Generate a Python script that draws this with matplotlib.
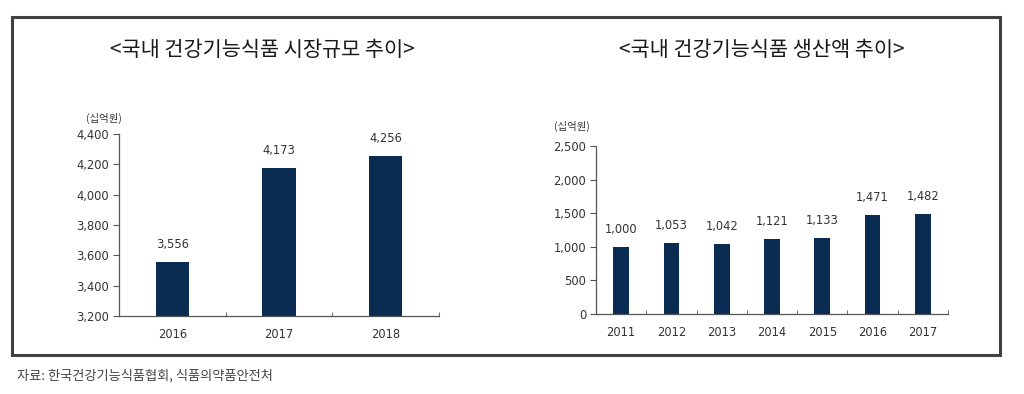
import matplotlib
matplotlib.use('AGG')

import matplotlib.pyplot as plt
from matplotlib.patches import Rectangle
from matplotlib.ticker import FuncFormatter
import numpy as np

plt.rcParams['font.family'] = ['DejaVu Sans', 'Noto Sans CJK KR']

W, H = 1024, 394

market_years = ['2016', '2017', '2018']
market_values = [3556, 4173, 4256]

prod_years = ['2011', '2012', '2013', '2014', '2015', '2016', '2017']
prod_values = [1000, 1053, 1042, 1121, 1133, 1471, 1482]

BAR = '#0a2b52'
TXT = '#333333'
AXC = '#555555'
KR = ['Noto Sans CJK KR', 'DejaVu Sans']


def px(x0, y0, x1, y1):
    # pixel box (top-left origin) -> figure fraction rect
    return [x0 / W, 1 - y1 / H, (x1 - x0) / W, (y1 - y0) / H]


def draw_bars(ax, cats, vals, ylim, step):
    x = np.arange(len(cats))
    ax.bar(x, vals, width=0.31, color=BAR, zorder=2)
    for xi, v in zip(x, vals):
        ax.annotate(f"{v:,}", (xi, v), xytext=(0, 8), textcoords='offset points',
                    ha='center', va='bottom', fontsize=8.3, color=TXT)
    ax.set_xlim(-0.5, len(cats) - 0.5)
    ax.set_ylim(*ylim)
    ax.set_yticks(np.arange(ylim[0], ylim[1] + 1, step))
    ax.yaxis.set_major_formatter(FuncFormatter(lambda v, p: f"{int(v):,}"))
    ax.set_xticks(x)
    ax.set_xticklabels(cats)
    ax.set_xticks(np.arange(0.5, len(cats), 1.0), minor=True)
    ax.tick_params(axis='x', which='major', length=0, pad=9, labelsize=8.3, labelcolor=TXT)
    ax.tick_params(axis='x', which='minor', direction='in', length=3, color=AXC)
    ax.tick_params(axis='y', length=4, color=AXC, labelsize=8.3, labelcolor=TXT, pad=3)
    for s in ['top', 'right']:
        ax.spines[s].set_visible(False)
    for s in ['left', 'bottom']:
        ax.spines[s].set_color(AXC)
        ax.spines[s].set_linewidth(0.9)


fig = plt.figure(figsize=(W / 100, H / 100), dpi=100)

ax1 = fig.add_axes(px(119, 134, 439, 316))
draw_bars(ax1, market_years, market_values, (3200, 4400), 200)

ax2 = fig.add_axes(px(596, 146, 948, 314))
draw_bars(ax2, prod_years, prod_values, (0, 2500), 500)

fig.text(262 / W, 1 - 50 / H, '<국내 건강기능식품 시장규모 추이>', ha='center', va='center',
         fontsize=15, weight='medium', color='#1a1a1a', family=KR)
fig.text(762 / W, 1 - 50 / H, '<국내 건강기능식품 생산액 추이>', ha='center', va='center',
         fontsize=15, weight='medium', color='#1a1a1a', family=KR)

fig.text(104 / W, 1 - 118 / H, '(십억원)', ha='center', va='center', fontsize=7.5,
         color=TXT, family=KR)
fig.text(572 / W, 1 - 126 / H, '(십억원)', ha='center', va='center', fontsize=7.5,
         color=TXT, family=KR)

fig.text(17 / W, 1 - 376 / H, '자료: 한국건강기능식품협회, 식품의약품안전처', ha='left', va='center',
         fontsize=9.5, color='#444444', family=KR)

fig.patches.append(Rectangle((12 / W, 1 - 355 / H), 988 / W, 338 / H, transform=fig.transFigure,
                             fill=False, edgecolor='#404040', linewidth=2.2))

fig.savefig('out.png', dpi=100)
